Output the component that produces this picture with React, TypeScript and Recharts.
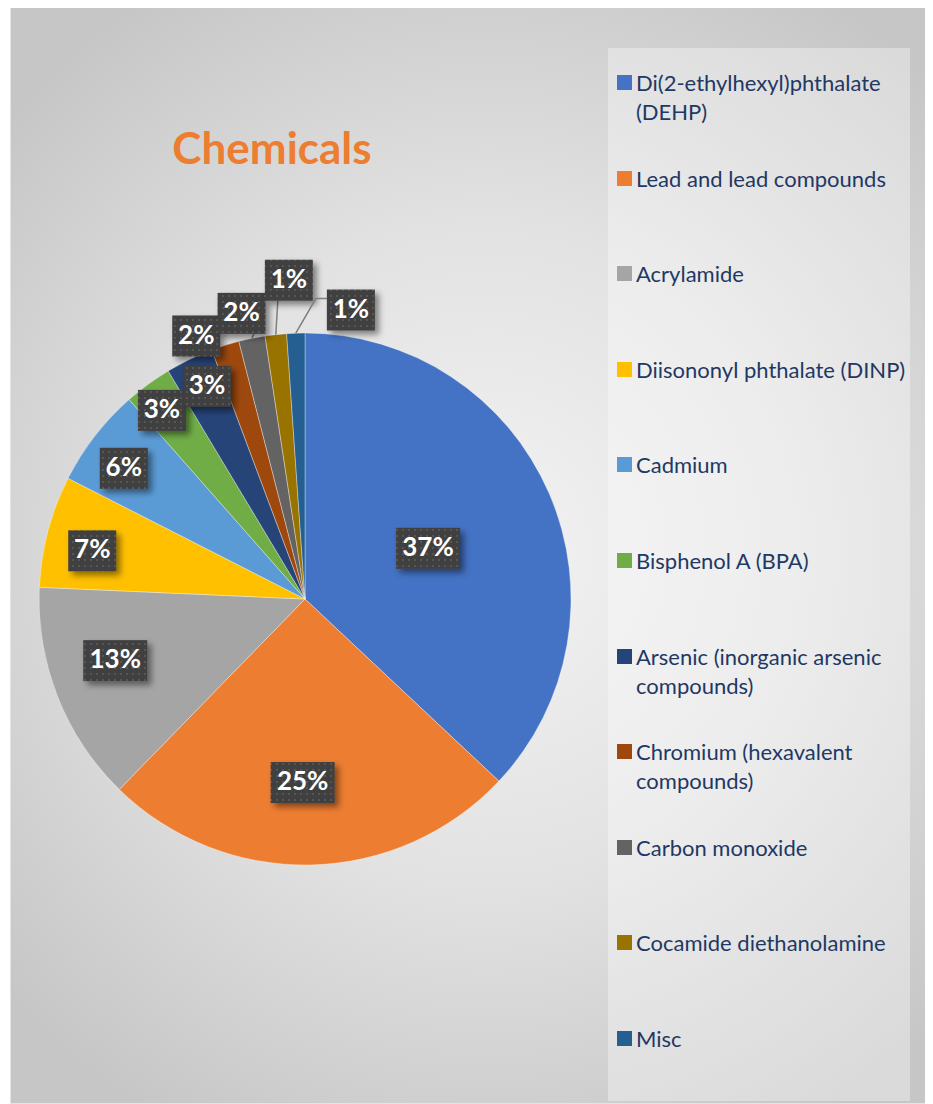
import { PieChart, Pie, Legend } from "recharts";

const names = [
  "Di(2-ethylhexyl)phthalate (DEHP)",
  "Lead and lead compounds",
  "Acrylamide",
  "Diisononyl phthalate (DINP)",
  "Cadmium",
  "Bisphenol A (BPA)",
  "Arsenic (inorganic arsenic compounds)",
  "Chromium (hexavalent compounds)",
  "Carbon monoxide",
  "Cocamide diethanolamine",
  "Misc",
];
const shares = [37.0, 25.3, 13.4, 6.8, 6.0, 2.9, 2.9, 1.7, 1.6, 1.3, 1.1];
const colors = [
  "#4472C4", "#ED7D31", "#A5A5A5", "#FFC000", "#5B9BD5", "#70AD47",
  "#264478", "#9E480E", "#636363", "#997300", "#255E91",
];

// label placement per slice: [radius factor, angle shift in degrees clockwise]
const labelPlacement: [number, number][] = [
  [0.5, 1], [0.69, 2], [0.75, 3.6], [0.82, -2], [0.84, -2], [0.89, -1],
  [0.88, 1], [1.07, -5], [1.1, -1], [1.2, 3.4], [1.1, 11],
];

const data = names.map((name, i) => ({ name, value: shares[i], fill: colors[i] }));

const RAD = Math.PI / 180;
const FONT = "Lato, 'Open Sans', sans-serif";

function renderLabel(props: any) {
  const { cx, cy, midAngle, outerRadius, percent, index } = props;
  const [rf, da] = labelPlacement[index];
  const a = (midAngle - da) * RAD;
  const r = outerRadius * rf;
  const x = cx + r * Math.cos(a);
  const y = cy - r * Math.sin(a);
  const text = `${Math.round(percent * 100)}%`;
  const w = text.length * 16 + 16;
  const h = 41;
  const left = x - w / 2;
  const bottom = y + h / 2;

  let leader: any = null;
  if (rf > 1.08) {
    const ex = cx + outerRadius * Math.cos(midAngle * RAD);
    const ey = cy - outerRadius * Math.sin(midAngle * RAD);
    if (ex < left - 4) {
      const ly = y - h / 2 + 9;
      leader = <polyline points={`${ex},${ey} ${left - 11},${ly} ${left},${ly}`} fill="none" stroke="#7f7f7f" strokeWidth={1.5} />;
    } else {
      const lx = Math.min(Math.max(ex + 2, left + 8), left + w - 8);
      leader = <line x1={ex} y1={ey} x2={lx} y2={bottom} stroke="#7f7f7f" strokeWidth={1.5} />;
    }
  }

  return (
    <g key={`lbl-${index}`}>
      {index === 0 && (
        <defs>
          <pattern id="lblDots" width="6" height="6" patternUnits="userSpaceOnUse">
            <rect width="6" height="6" fill="#3f3f3f" />
            <rect x="2" y="2" width="2" height="2" fill="#575757" />
          </pattern>
          <filter id="lblShadow" x="-30%" y="-30%" width="170%" height="170%">
            <feDropShadow dx="4" dy="4" stdDeviation="3" floodColor="#000" floodOpacity="0.45" />
          </filter>
        </defs>
      )}
      {leader}
      <rect x={left} y={y - h / 2} width={w} height={h} fill="url(#lblDots)" filter="url(#lblShadow)" />
      <text x={x} y={y + 1} fill="#ffffff" textAnchor="middle" dominantBaseline="middle"
        fontFamily={FONT} fontWeight={700} fontSize={26}>
        {text}
      </text>
    </g>
  );
}

function renderLegend() {
  return (
    <div style={{ width: 302, height: 1053, background: "rgba(255,255,255,0.35)", boxSizing: "border-box", paddingTop: 20 }}>
      {names.map((n, i) => (
        <div key={n} style={{ position: "relative", height: 95.6, paddingLeft: 28, boxSizing: "border-box" }}>
          <div style={{ position: "absolute", left: 9, top: 7, width: 15, height: 15, background: colors[i] }} />
          <div style={{ width: 282, fontFamily: FONT, fontSize: 22, lineHeight: "29px", color: "#1F3864" }}>{n}</div>
        </div>
      ))}
    </div>
  );
}

export default function App() {
  return (
    <div
      style={{
        position: "relative",
        width: 918,
        height: 1099,
        margin: "-3px 0 0 2px",
        background: "radial-gradient(ellipse 70% 60% at 52% 50%, #f3f3f3 0%, #e2e2e2 50%, #c6c6c6 100%)",
        boxShadow: "inset 0 0 0 1px #e4e4e4",
      }}
    >
      <div
        style={{
          position: "absolute",
          left: 142,
          top: 117,
          width: 240,
          textAlign: "center",
          fontFamily: FONT,
          fontWeight: 700,
          fontSize: 44,
          color: "#ED7D31",
          lineHeight: "50px",
        }}
      >
        Chemicals
      </div>
      <PieChart width={918} height={1099} margin={{ top: 0, right: 0, bottom: 0, left: 0 }}>
        <Pie
          data={data}
          dataKey="value"
          nameKey="name"
          cx={295}
          cy={594}
          outerRadius={266}
          startAngle={90}
          endAngle={-270}
          stroke="rgba(255,255,255,0.35)"
          strokeWidth={1}
          label={renderLabel}
          labelLine={false}
          isAnimationActive={false}
        />
        <Legend
          content={renderLegend}
          layout="vertical"
          align="right"
          verticalAlign="top"
          wrapperStyle={{ position: "absolute", left: 598, top: 43, width: 302, height: 1053 }}
        />
      </PieChart>
    </div>
  );
}
